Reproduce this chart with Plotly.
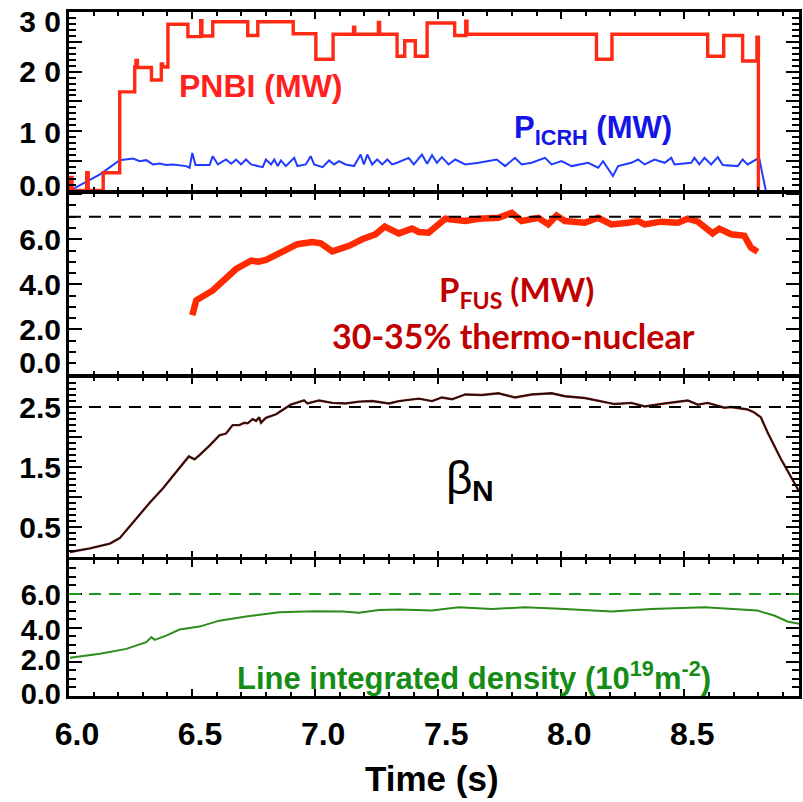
import plotly.graph_objects as go
from plotly.subplots import make_subplots

# ---------------- data ----------------
# Panel 1: NBI power (MW), step signal
pnbi_t = [6.000, 6.004, 6.012, 6.072, 6.078, 6.139, 6.206, 6.267, 6.272, 6.278, 6.335, 6.375, 6.380,
          6.402, 6.483, 6.535, 6.540, 6.584, 6.726, 6.767, 6.911, 7.003, 7.073, 7.156, 7.161, 7.257,
          7.262, 7.333, 7.364, 7.407, 7.455, 7.567, 7.612, 7.617, 8.143, 8.206, 8.595, 8.660, 8.737,
          8.795, 8.801]
pnbi_v = [0.0, 2.2, 0.0, 3.0, 0.0, 3.0, 16.6, 20.8, 21.9, 20.7, 18.6, 21.3, 20.8,
          28.0, 25.9, 28.6, 26.0, 28.4, 26.1, 28.4, 26.4, 22.1, 26.3, 27.5, 26.3, 28.3,
          26.3, 22.6, 25.2, 22.6, 28.2, 26.1, 28.5, 26.3, 22.1, 26.3, 22.6, 26.1, 21.8,
          25.8, 0.0]

# Panel 1: ICRH power (MW)
icrh_t = [6.004, 6.126, 6.206, 6.260, 6.287, 6.314, 6.341, 6.368, 6.395, 6.422, 6.476, 6.490, 6.501,
          6.514, 6.571, 6.584, 6.605, 6.638, 6.659, 6.679, 6.699, 6.719, 6.740, 6.787, 6.800, 6.821,
          6.834, 6.848, 6.861, 6.881, 6.915, 6.928, 6.962, 6.982, 6.996, 7.030, 7.057, 7.077, 7.097,
          7.124, 7.158, 7.185, 7.198, 7.212, 7.232, 7.252, 7.273, 7.293, 7.313, 7.333, 7.380, 7.401,
          7.434, 7.455, 7.475, 7.495, 7.515, 7.542, 7.569, 7.610, 7.664, 7.704, 7.738, 7.772, 7.812,
          7.839, 7.880, 7.934, 7.961, 8.001, 8.042, 8.109, 8.150, 8.170, 8.210, 8.231, 8.285, 8.312,
          8.339, 8.379, 8.420, 8.447, 8.460, 8.528, 8.541, 8.561, 8.582, 8.609, 8.636, 8.656, 8.717,
          8.737, 8.757, 8.804, 8.831]
icrh_v = [0.00, 2.72, 5.11, 5.39, 4.94, 5.11, 4.39, 4.56, 4.28, 4.39, 4.11, 3.83, 6.33,
          4.28, 4.28, 5.78, 4.39, 5.22, 4.50, 5.22, 4.39, 5.22, 4.39, 3.94, 5.22, 4.39,
          5.22, 4.11, 5.06, 4.11, 5.50, 4.11, 4.39, 5.78, 4.39, 3.94, 5.06, 4.39, 4.94,
          4.39, 4.11, 6.06, 4.39, 6.06, 4.39, 5.22, 4.39, 5.22, 4.39, 4.67, 5.50, 4.39,
          6.06, 4.50, 5.94, 4.67, 5.61, 4.39, 5.22, 4.39, 4.67, 4.94, 5.22, 4.11, 5.50,
          4.39, 4.67, 5.50, 4.39, 4.94, 4.11, 4.67, 3.83, 4.94, 2.44, 4.11, 4.67, 5.22,
          4.39, 5.22, 4.67, 5.50, 4.39, 4.67, 5.50, 4.39, 5.50, 4.39, 5.61, 4.28, 4.11,
          5.22, 4.39, 5.50, 0.00]

# Panel 2: fusion power (MW)
pfus_t = [6.501, 6.517, 6.584, 6.638, 6.679, 6.740, 6.770, 6.800, 6.854, 6.928, 6.989, 7.023, 7.070,
          7.138, 7.191, 7.245, 7.283, 7.340, 7.394, 7.421, 7.461, 7.529, 7.610, 7.664, 7.745, 7.799,
          7.839, 7.907, 7.947, 7.981, 8.015, 8.096, 8.150, 8.204, 8.271, 8.312, 8.339, 8.406, 8.474,
          8.514, 8.555, 8.615, 8.642, 8.690, 8.744, 8.771, 8.798]
pfus_v = [2.63, 3.29, 3.73, 4.27, 4.68, 5.05, 5.00, 5.08, 5.41, 5.78, 5.88, 5.82, 5.46,
          5.71, 6.00, 6.22, 6.56, 6.26, 6.47, 6.32, 6.29, 6.91, 6.81, 6.91, 6.95, 7.17,
          6.81, 6.95, 6.66, 7.05, 6.81, 6.73, 6.95, 6.66, 6.73, 6.81, 6.66, 6.78, 6.73,
          6.91, 6.78, 6.26, 6.47, 6.22, 6.15, 5.63, 5.44]

# Panel 3: normalised beta
beta_t = [6.004, 6.085, 6.166, 6.206, 6.260, 6.328, 6.382, 6.436, 6.487, 6.510, 6.530, 6.571, 6.611,
          6.638, 6.665, 6.692, 6.713, 6.726, 6.746, 6.760, 6.773, 6.780, 6.800, 6.841, 6.901, 6.955,
          6.969, 7.016, 7.070, 7.124, 7.178, 7.232, 7.300, 7.340, 7.421, 7.475, 7.515, 7.556, 7.610,
          7.677, 7.745, 7.812, 7.880, 7.961, 8.015, 8.096, 8.150, 8.217, 8.285, 8.339, 8.420, 8.514,
          8.555, 8.595, 8.663, 8.690, 8.757, 8.784, 8.811, 8.838, 8.892, 8.932, 8.966]
beta_v = [0.09, 0.15, 0.23, 0.32, 0.58, 0.91, 1.15, 1.43, 1.68, 1.63, 1.70, 1.86, 2.03,
          2.06, 2.20, 2.20, 2.24, 2.23, 2.30, 2.27, 2.33, 2.24, 2.32, 2.38, 2.54, 2.61,
          2.56, 2.61, 2.57, 2.56, 2.59, 2.60, 2.56, 2.60, 2.64, 2.60, 2.66, 2.63, 2.71,
          2.70, 2.73, 2.66, 2.71, 2.73, 2.68, 2.65, 2.61, 2.55, 2.57, 2.51, 2.56, 2.61,
          2.54, 2.57, 2.49, 2.50, 2.46, 2.41, 2.33, 2.08, 1.64, 1.34, 1.10]

# Panel 4: line integrated density (1e19 m^-2)
dens_t = [6.004, 6.126, 6.233, 6.314, 6.335, 6.348, 6.395, 6.449, 6.530, 6.611, 6.719, 6.854, 7.003,
          7.111, 7.178, 7.259, 7.340, 7.475, 7.583, 7.718, 7.853, 8.015, 8.204, 8.366, 8.582, 8.690,
          8.797, 8.865, 8.919, 8.966]
dens_v = [2.25, 2.48, 2.77, 3.16, 3.46, 3.30, 3.55, 3.91, 4.08, 4.43, 4.67, 4.92, 4.98,
          4.96, 4.90, 5.06, 5.08, 5.02, 5.21, 5.12, 5.21, 5.12, 4.96, 5.12, 5.21, 5.12,
          5.02, 4.73, 4.38, 4.24]

ref_pfus = [7.0]
ref_beta = [2.5]
ref_dens = [6.0]

x_range = [6.0, 8.966]
x_tickvals = [6.0, 6.5, 7.0, 7.5, 8.0, 8.5]
x_ticktext = ["6.0", "6.5", "7.0", "7.5", "8.0", "8.5"]

# tick marks (major) per panel
y1_ticks = [0, 5, 10, 15, 20, 25, 30]
y2_ticks = [0, 2, 4, 6, 8]
y3_ticks = [0.5, 1.0, 1.5, 2.0, 2.5, 3.0]
y4_ticks = [0, 2, 4, 6, 8]
# tick labels and where they are printed
y1_labelpos = [0.8, 9.7, 20.0, 28.5]
y1_labels = ["0.0", "1 0", "2 0", "3 0"]
y2_labelpos = [0.55, 2.0, 4.0, 6.0]
y2_labels = ["0.0", "2.0", "4.0", "6.0"]
y3_labelpos = [0.5, 1.5, 2.5]
y3_labels = ["0.5", "1.5", "2.5"]
y4_labelpos = [0.1, 2.1, 3.9, 5.96]
y4_labels = ["0.0", "2.0", "4.0", "6.0"]

# ---------------- figure ----------------
W, H = 803, 802
ML, MR, MT, MB = 69, 1, 12, 106
PW, PH = W - ML - MR, H - MT - MB
LW = 2.5


def px(x):
    return (x - ML) / PW


def py(y):
    return (H - MB - y) / PH


fig = make_subplots(rows=4, cols=1, vertical_spacing=LW / PH,
                    row_heights=[180.5, 183.5, 182.4, 137.6])

fig.add_trace(go.Scatter(x=icrh_t, y=icrh_v, mode="lines", line=dict(color="#1f3cff", width=2),
                         showlegend=False), row=1, col=1)
fig.add_trace(go.Scatter(x=pnbi_t, y=pnbi_v, mode="lines", line_shape="hv",
                         line=dict(color="#ff2a14", width=3.4), showlegend=False), row=1, col=1)
fig.add_trace(go.Scatter(x=pfus_t, y=pfus_v, mode="lines", line=dict(color="#ff2a00", width=6.5),
                         showlegend=False), row=2, col=1)
fig.add_trace(go.Scatter(x=beta_t, y=beta_v, mode="lines", line=dict(color="#8a1a10", width=2.4),
                         showlegend=False), row=3, col=1)
fig.add_trace(go.Scatter(x=beta_t, y=beta_v, mode="lines", line=dict(color="#111111", width=1.3),
                         showlegend=False), row=3, col=1)
fig.add_trace(go.Scatter(x=dens_t, y=dens_v, mode="lines", line=dict(color="#2e8c1c", width=2),
                         showlegend=False), row=4, col=1)

dash = "12px,8px"
for v in ref_pfus:
    fig.add_hline(y=v, row=2, col=1, line=dict(color="black", width=2, dash=dash))
for v in ref_beta:
    fig.add_hline(y=v, row=3, col=1, line=dict(color="black", width=2, dash=dash))
for v in ref_dens:
    fig.add_hline(y=v, row=4, col=1, line=dict(color="#1c9a1c", width=2, dash=dash))

bold = "bold"
for r in range(1, 5):
    fig.update_xaxes(row=r, col=1, range=x_range, showline=True, linewidth=LW, linecolor="black",
                     mirror="ticks", ticks="inside", ticklen=7, tickwidth=2, tickcolor="black",
                     tickvals=x_tickvals, ticktext=x_ticktext, showgrid=False, zeroline=False,
                     minor=dict(dtick=0.1, tick0=6.0, ticks="inside", ticklen=4, tickwidth=1.5,
                                tickcolor="black", showgrid=False),
                     showticklabels=(r == 4),
                     tickfont=dict(family="Liberation Sans", size=32, color="black", weight=bold))

fig.update_xaxes(row=4, col=1, ticklabelshift=8, ticklabelstandoff=8)

ycfg = [
    ([0, 30.05], y1_ticks, 1, y1_labelpos, y1_labels, 30),
    ([0, 8.05], y2_ticks, 0.5, y2_labelpos, y2_labels, 30),
    ([0, 3.0], y3_ticks, 0.1, y3_labelpos, y3_labels, 30),
    ([0, 8.0], y4_ticks, 0.5, y4_labelpos, y4_labels, 29),
]
layout_extra = {}
for r, (rng, tv, mdt, lp, lt, fs) in enumerate(ycfg, start=1):
    fig.update_yaxes(row=r, col=1, range=rng, tickvals=tv, showticklabels=False, showline=True,
                     linewidth=LW, linecolor="black", mirror="ticks", ticks="inside",
                     ticklen=13, tickwidth=2, tickcolor="black", showgrid=False, zeroline=False,
                     minor=dict(dtick=mdt, tick0=0, ticks="inside", ticklen=7, tickwidth=1.5,
                                tickcolor="black", showgrid=False))
    base = "y" if r == 1 else f"y{r}"
    xname = "x" if r == 1 else f"x{r}"
    lab_name = f"y{r + 4}"
    layout_extra[f"yaxis{r + 4}"] = dict(
        overlaying=base, anchor=xname, side="left", range=rng, tickvals=lp, ticktext=lt,
        ticks="", showline=False, showgrid=False, zeroline=False, ticklabelstandoff=7,
        ticklabeloverflow="allow",
        tickfont=dict(family="Liberation Sans", size=fs, color="black", weight=bold))
    fig.add_trace(go.Scatter(x=[None], y=[None], xaxis=xname, yaxis=lab_name, mode="lines",
                             showlegend=False, hoverinfo="skip"))

fig.update_layout(**layout_extra)

ann = []
ann.append(dict(text="PNBI (MW)", x=px(262), y=py(86), xanchor="center", yanchor="middle",
                font=dict(family="Liberation Sans", size=32, color="#ff2020", weight=bold)))
ann.append(dict(text="P<sub>ICRH</sub> (MW)", x=px(514), y=py(130), xanchor="left", yanchor="middle",
                font=dict(family="Liberation Sans", size=31, color="#1414e6", weight=bold)))
ann.append(dict(text="P<sub>FUS</sub> (MW)", x=px(439), y=py(291), xanchor="left", yanchor="middle",
                font=dict(family="Lato", size=33, color="#c00000", weight=bold)))
ann.append(dict(text="30-35% thermo-nuclear", x=px(515), y=py(335), xanchor="center", yanchor="middle",
                font=dict(family="Lato", size=34, color="#c00000", weight=bold)))
ann.append(dict(text="β", x=px(461), y=py(478), xanchor="center", yanchor="middle",
                font=dict(family="Liberation Sans", size=46, color="black")))
ann.append(dict(text="N", x=px(485), y=py(491), xanchor="center", yanchor="middle",
                font=dict(family="Liberation Sans", size=30, color="black", weight=bold)))
ann.append(dict(text="Line integrated density (10<sup>19</sup>m<sup>-2</sup>)", x=px(476), y=py(676),
                xanchor="center", yanchor="middle",
                font=dict(family="Liberation Sans", size=31, color="#168c16", weight=bold)))
ann.append(dict(text="Time (s)", x=px(433), y=py(779), xanchor="center", yanchor="middle",
                font=dict(family="Liberation Sans", size=35, color="black", weight=bold)))
for a in ann:
    a.update(xref="paper", yref="paper", showarrow=False)

fig.update_layout(width=W, height=H, margin=dict(l=ML, r=MR, t=MT, b=MB, pad=0),
                  paper_bgcolor="white", plot_bgcolor="white", annotations=ann,
                  showlegend=False)

fig.write_html("out.html")
